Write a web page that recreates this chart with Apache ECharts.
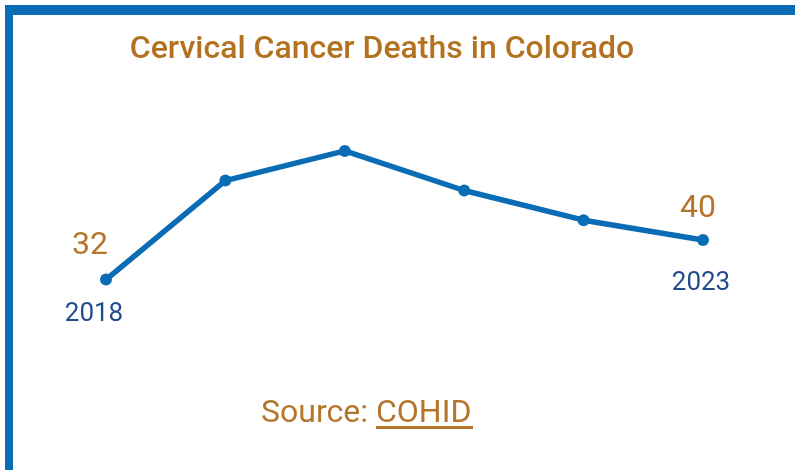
<!DOCTYPE html>
<html>
<head>
<meta charset="utf-8">
<script src="https://cdn.jsdelivr.net/npm/echarts@6/dist/echarts.min.js"></script>
<style>
  html, body { margin: 0; padding: 0; background: #fff; }
  #chart { width: 795px; height: 470px; }
</style>
</head>
<body>
<div id="chart"></div>
<script>
const years = ['2018', '2019', '2020', '2021', '2022', '2023']
const deaths = [32, 52, 58, 50, 44, 40]

const blue = '#0a6cb4'
const gold = '#b5762b'
const navy = '#1f4d8c'

const last = years.length - 1

// value labels only at the two ends
const valueData = deaths.map((v, i) => {
  if (i === 0) return { value: v, label: { show: true, offset: [-16, -34] } }
  if (i === last) return { value: v, label: { show: true, offset: [-5, -31] } }
  return v
})

// year labels below the two ends
const yearData = deaths.map((v, i) => {
  if (i === 0) return { value: v, label: { show: true, formatter: years[i], offset: [-12, 35] } }
  if (i === last) return { value: v, label: { show: true, formatter: years[i], offset: [-2, 43] } }
  return v
})

const chart = echarts.init(document.getElementById('chart'))
chart.setOption({
  animation: false,
  title: {
    text: 'Cervical Cancer Deaths in Colorado',
    left: 377,
    top: 29,
    textAlign: 'center',
    textStyle: {
      fontFamily: 'Roboto',
      fontSize: 32,
      fontWeight: 500,
      color: '#b3721f',
      textShadowColor: 'rgba(200,160,100,0.5)',
      textShadowOffsetX: 1,
      textShadowOffsetY: 2,
      textShadowBlur: 0,
    },
  },
  grid: { left: 106, right: 92, top: 141, height: 198 },
  xAxis: {
    type: 'category',
    data: years,
    boundaryGap: false,
    show: false,
  },
  yAxis: {
    type: 'value',
    min: 20,
    max: 60,
    show: false,
  },
  series: [
    {
      type: 'line',
      data: valueData,
      symbol: 'circle',
      symbolSize: 12,
      lineStyle: { color: blue, width: 5.5 },
      itemStyle: { color: blue },
      label: {
        show: false,
        position: 'inside',
        fontFamily: 'Roboto',
        fontSize: 32,
        color: gold,
      },
      z: 3,
    },
    {
      type: 'line',
      data: yearData,
      symbol: 'circle',
      symbolSize: 1,
      itemStyle: { color: 'rgba(0,0,0,0)' },
      lineStyle: { opacity: 0 },
      label: {
        show: false,
        position: 'inside',
        fontFamily: 'Roboto',
        fontSize: 26,
        color: navy,
      },
      silent: true,
    },
  ],
  graphic: [
    { type: 'rect', shape: { x: 5, y: 5, width: 790, height: 10 }, style: { fill: blue } },
    { type: 'rect', shape: { x: 5, y: 5, width: 8, height: 465 }, style: { fill: blue } },
    {
      type: 'text',
      left: 261,
      top: 398,
      style: { text: 'Source:', font: '32px Roboto', fill: gold },
    },
    {
      type: 'text',
      left: 376,
      top: 398,
      style: { text: 'COHID', font: '32px Roboto', fill: gold },
    },
    {
      type: 'rect',
      shape: { x: 376, y: 426, width: 97, height: 3 },
      style: { fill: gold },
    },
  ],
})
</script>
</body>
</html>
